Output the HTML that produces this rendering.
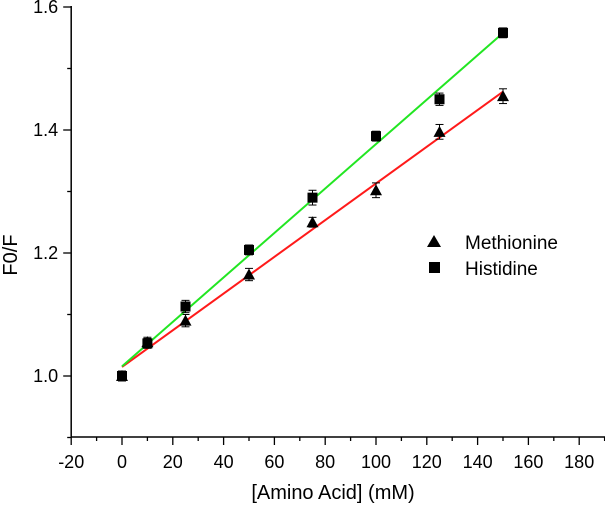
<!DOCTYPE html>
<html><head><meta charset="utf-8"><style>
html,body{margin:0;padding:0;background:#fff;}
svg{display:block;font-family:"Liberation Sans",Arial,sans-serif;}
</style></head><body>
<svg id="c" width="605" height="506"></svg>
<script>
const xTicks=[-20,0,20,40,60,80,100,120,140,160,180];
const yTicks=[1.0,1.2,1.4,1.6];
const concentrations=[0,10,25,50,75,100,125,150];
const methionine=[1.0,1.055,1.09,1.165,1.25,1.302,1.397,1.455];
const histidine=[1.0,1.053,1.113,1.205,1.29,1.39,1.45,1.558];
const methErr=[0.008,0.008,0.01,0.01,0.008,0.012,0.012,0.012];
const histErr=[0.008,0.008,0.01,0.008,0.012,0.008,0.01,0.008];

const svg=document.getElementById('c');
const NS='http://www.w3.org/2000/svg';
const X=v=>122+(v)*50.8/20;
const Y=v=>376-(v-1)*615;
function mk(tag,attrs,parent){const e=document.createElementNS(NS,tag);for(const k in attrs)e.setAttribute(k,attrs[k]);(parent||svg).appendChild(e);return e;}

const L=X(-20);
let a=mk('line',{x1:L,y1:6,x2:L,y2:437,stroke:'#000','stroke-width':1.5});


a=mk('line',{x1:L,y1:437,x2:605,y2:437,stroke:'#000','stroke-width':1.5});



xTicks.forEach(t=>{
  mk('line',{x1:X(t),y1:437,x2:X(t),y2:445,stroke:'#000','stroke-width':1.3});
  mk('line',{x1:X(t+10),y1:437,x2:X(t+10),y2:441,stroke:'#000','stroke-width':1.3});
  const tx=mk('text',{x:X(t),y:468,'text-anchor':'middle','font-size':18,fill:'#000'});
  tx.textContent=t;
  
  
});
yTicks.forEach(t=>{
  mk('line',{x1:L-8,y1:Y(t),x2:L,y2:Y(t),stroke:'#000','stroke-width':1.3});
  if(t>1.0)mk('line',{x1:L-4,y1:Y(t-0.1),x2:L,y2:Y(t-0.1),stroke:'#000','stroke-width':1.3});
  const tx=mk('text',{x:L-13,y:Y(t)+6,'text-anchor':'end','font-size':18,fill:'#000'});
  tx.textContent=t.toFixed(1);
  
  
});
mk('line',{x1:L-4,y1:Y(0.9),x2:L,y2:Y(0.9),stroke:'#000','stroke-width':1.3});

let t=mk('text',{x:333,y:499,'text-anchor':'middle','font-size':20,fill:'#000'});
t.textContent='[Amino Acid] (mM)';


t=mk('text',{x:17,y:255,'text-anchor':'middle','font-size':20,fill:'#000',transform:'rotate(-90 17 255)'});
t.textContent='F0/F';



function fit(xs,ys){const n=xs.length;let sx=0,sy=0,sxx=0,sxy=0;for(let i=0;i<n;i++){sx+=xs[i];sy+=ys[i];sxx+=xs[i]*xs[i];sxy+=xs[i]*ys[i];}const m=(n*sxy-sx*sy)/(n*sxx-sx*sx);return [m,(sy-m*sx)/n];}
function series(vals,errs,color,shape,name){
  const [m,b]=fit(concentrations,vals);
  const x0=concentrations[0],x1=concentrations[concentrations.length-1];
  const l=mk('line',{x1:X(x0),y1:Y(m*x0+b),x2:X(x1),y2:Y(m*x1+b),stroke:color,'stroke-width':2});
  
  
  concentrations.forEach((c,i)=>{
    const cx=X(c),cy=Y(vals[i]),e=errs[i]*615;
    const g=mk('g',{});
    
    
    mk('line',{x1:cx,y1:cy-e,x2:cx,y2:cy+e,stroke:'#000','stroke-width':1},g);
    mk('line',{x1:cx-4,y1:cy-e,x2:cx+4,y2:cy-e,stroke:'#000','stroke-width':1},g);
    mk('line',{x1:cx-4,y1:cy+e,x2:cx+4,y2:cy+e,stroke:'#000','stroke-width':1},g);
    if(shape==='tri')mk('polygon',{points:`${cx},${cy-6} ${cx-6},${cy+5} ${cx+6},${cy+5}`,fill:'#000'},g);
    else mk('rect',{x:cx-5,y:cy-5,width:10,height:10,fill:'#000'},g);
  });
}
series(methionine,methErr,'#ff1a1a','tri','methionine');
series(histidine,histErr,'#22e622','sq','histidine');

const lg=mk('g',{});


mk('polygon',{points:'434,235 427,247 441,247',fill:'#000'},lg);
t=mk('text',{x:465,y:249,'font-size':19,fill:'#000'},lg);
t.textContent='Methionine';


mk('rect',{x:429,y:262,width:11,height:11,fill:'#000'},lg);
t=mk('text',{x:465,y:275,'font-size':19,fill:'#000'},lg);
t.textContent='Histidine';


</script>
</body></html>
